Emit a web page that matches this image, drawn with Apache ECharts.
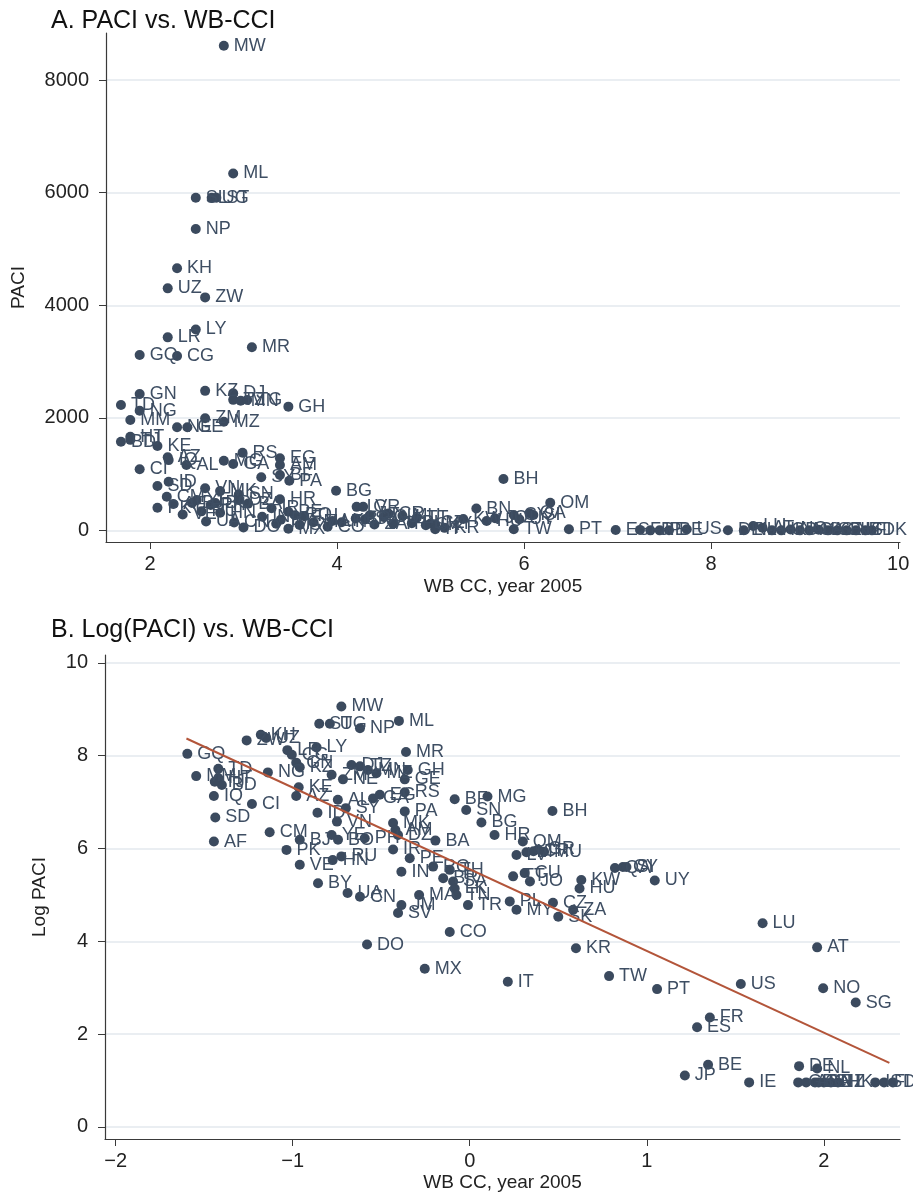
<!DOCTYPE html>
<html><head><meta charset="utf-8">
<script src="https://cdn.jsdelivr.net/npm/echarts@6/dist/echarts.min.js"></script>
<style>html,body{margin:0;padding:0;background:#fff}#c{width:913px;height:1198px}</style>
</head><body><div id="c"></div>
<script>
// ---------- Panel A: PACI vs WB CC ----------
const namesA = ['MW','ML','SL','UG','ST','NP','KH','UZ','ZW','LY','LR','MR','GQ','CG','GN','KZ','DJ','TZ','MN','TG','GH','TD','NG','MM','ZM','MZ','NE','GE','HT','BD','TJ','KE','AZ','IQ','AL','RS','MG','GA','EG','AM','CI','SY','BF','PA','BG','HR','SD','ID','VN','MK','CM','PK','AF','SN','YE','BO','PH','DZ','BA','BJ','RU','HN','VE','IR','PE','IN','RO','TH','BY','UA','CN','DO','MX','JM','SV','MA','CO','LK','TN','BR','SA','LV','GR','LT','CR','MU','ZA','TR','PL','CU','TT','CZ','MY','SK','KW','HU','KR','IT','JO','BN','BH','OM','CY','QA','SI','UY','TW','PT','ES','FR','JP','IE','BE','US','DE','NL','LU','AT','HK','GB','NO','AU','CA','SG','SE','CH','NZ','IS','FI','DK'];
const ccA = [2.79,2.89,2.49,2.66,2.71,2.49,2.29,2.19,2.59,2.49,2.19,3.09,1.89,2.29,1.89,2.59,2.89,2.89,2.97,3.04,3.48,1.69,1.89,1.79,2.59,2.79,2.29,2.40,1.79,1.69,1.79,2.08,2.19,2.20,2.39,2.99,2.79,2.89,3.39,3.39,1.89,3.19,3.39,3.49,3.99,3.39,2.08,2.20,2.59,2.75,2.18,2.08,2.25,2.95,2.50,2.70,2.65,2.95,3.05,2.45,2.55,2.75,2.35,3.30,3.48,3.20,3.55,3.65,3.40,2.60,2.90,3.00,3.48,3.35,3.60,3.75,3.90,3.95,4.05,4.20,4.30,4.21,4.28,4.35,4.55,4.70,4.40,4.60,4.80,4.50,4.85,5.00,5.05,4.95,5.35,5.60,5.15,5.05,5.69,5.49,5.78,6.28,5.89,6.06,6.10,5.95,5.89,6.48,6.98,7.24,7.35,7.45,7.55,7.74,8.18,8.35,8.45,8.55,8.65,8.75,8.85,8.95,9.05,9.15,9.25,9.35,9.45,9.55,9.65,9.72];
const paciA = [8610,6340,5910,5910,5910,5355,4656,4300,4140,3570,3430,3255,3117,3100,2425,2480,2437,2320,2305,2318,2200,2230,2128,1963,1993,1932,1833,1833,1666,1577,1610,1500,1300,1250,1163,1382,1240,1181,1282,1163,1087,945,986,884,707,554,790,867,749,700,600,405,470,640,540,490,455,540,478,490,340,315,285,395,334,245,273,255,190,160,143,55,30,119,100,148,66,170,148,212,198,420,420,270,300,260,108,119,129,238,221,125,108,93,204,170,47,23,217,390,915,494,275,305,275,200,21,21,9,11,3,3,4,22,4,4,81,48,3,3,20,3,3,15,3,3,3,3,3,3];

// ---------- Panel B: Log(PACI) vs WB CC ----------
const namesB = ['MW','ST','UG','NP','ML','ZW','KH','UZ','LY','GQ','LR','CG','MR','GN','KZ','NG','TD','MM','HT','BD','TJ','IQ','CI','SD','AF','CM','KE','AZ','DJ','TZ','MN','GH','ZM','NE','MZ','GE','ID','AL','SY','VN','GA','EG','RS','PA','BF','MG','SN','BG','HR','BH','MK','AM','DZ','BA','OM','LV','LT','CR','GR','MU','BJ','PK','VE','BY','YE','BO','PH','HN','RU','IR','PE','IN','RO','TH','BR','SA','LK','TN','MA','TR','PL','MY','TT','CU','JO','CZ','ZA','SK','KW','HU','QA','CY','SI','UY','CN','UA','JM','SV','DO','CO','MX','IT','KR','TW','PT','US','LU','AT','NO','SG','FR','ES','BE','JP','IE','DE','NL','GB','AU','CA','SE','CH','NZ','HK','IS','FI','DK'];
const ccB = [-0.725,-0.85,-0.79,-0.62,-0.40,-1.26,-1.18,-1.15,-0.865,-1.595,-1.03,-1.005,-0.36,-0.98,-0.96,-1.14,-1.42,-1.545,-1.42,-1.40,-1.44,-1.445,-1.23,-1.437,-1.445,-1.13,-0.966,-0.98,-0.668,-0.62,-0.575,-0.35,-0.78,-0.716,-0.527,-0.367,-0.86,-0.745,-0.70,-0.75,-0.546,-0.508,-0.367,-0.367,-0.085,0.10,-0.02,0.066,0.14,0.467,-0.433,-0.42,-0.405,-0.194,0.30,0.264,0.32,0.36,0.386,0.42,-0.96,-1.035,-0.96,-0.857,-0.78,-0.744,-0.593,-0.774,-0.725,-0.433,-0.339,-0.386,-0.207,-0.113,-0.15,-0.094,-0.085,-0.075,-0.286,-0.01,0.226,0.264,0.245,0.31,0.34,0.47,0.584,0.50,0.63,0.62,0.82,0.865,0.885,1.045,-0.62,-0.69,-0.386,-0.405,-0.58,-0.113,-0.254,0.215,0.60,0.787,1.058,1.531,1.654,1.962,1.996,2.18,1.356,1.284,1.346,1.215,1.578,1.86,1.962,1.855,1.90,1.95,1.97,2.00,2.04,2.08,2.29,2.34,2.39];
const logPaciB = [9.06,8.69,8.69,8.59,8.75,8.33,8.45,8.38,8.18,8.04,8.12,8.02,8.08,7.85,7.75,7.64,7.72,7.56,7.52,7.37,7.44,7.13,6.96,6.67,6.15,6.35,7.32,7.13,7.80,7.77,7.69,7.69,7.59,7.49,7.62,7.49,6.77,7.05,6.87,6.58,7.08,7.16,7.21,6.80,7.06,7.12,6.83,6.56,6.29,6.81,6.55,6.40,6.29,6.17,6.15,5.86,5.92,5.94,5.98,5.93,6.19,5.97,5.65,5.25,6.29,6.19,6.22,5.75,5.83,5.98,5.79,5.50,5.61,5.54,5.36,5.29,5.14,5.00,5.00,4.78,4.86,4.68,5.40,5.47,5.29,4.83,4.68,4.53,5.32,5.14,5.58,5.60,5.60,5.31,4.96,5.04,4.78,4.61,3.93,4.20,3.41,3.13,3.85,3.25,2.97,3.08,4.39,3.87,2.99,2.68,2.36,2.15,1.34,1.11,0.96,1.31,1.26,0.96,0.96,0.96,0.96,0.96,0.96,0.96,0.96,0.96,0.96];

// fitted line end points
const fitX = [-1.6, 2.37];
const fitY = [8.37, 1.38];

// tick labels
const ticksAX = [2,4,6,8,10];
const ticksAY = [0,2000,4000,6000,8000];
const ticksBX = [-2,-1,0,1,2];
const ticksBY = [0,2,4,6,8,10];

const FONT = '"Liberation Sans", Arial, Helvetica, sans-serif';
const DOT = '#3b4a5e';
const LAB = '#3e4e63';
const AXC = '#3a3a3a';
const GRIDC = '#e3e9ee';

function xAxis(gi, min, max, ticks, gap) {
  return {
    type: 'value', gridIndex: gi, min: min, max: max,
    name: 'WB CC, year 2005', nameLocation: 'middle', nameGap: gap,
    nameTextStyle: {fontFamily: FONT, fontSize: 19, color: '#222'},
    axisLine: {show: true, onZero: false, lineStyle: {color: AXC, width: 1.2}},
    axisTick: {show: true, length: 7, customValues: ticks, lineStyle: {color: AXC}},
    axisLabel: {customValues: ticks, margin: 12, fontFamily: FONT, fontSize: 20, color: '#222',
      formatter: v => (v < 0 ? '\u2212' + Math.abs(v) : String(v))},
    splitLine: {show: false}
  };
}
function yAxis(gi, min, max, ticks, name, gap) {
  return {
    type: 'value', gridIndex: gi, min: min, max: max,
    name: name, nameLocation: 'middle', nameGap: gap, nameRotate: 90,
    nameTextStyle: {fontFamily: FONT, fontSize: 19, color: '#222'},
    axisLine: {show: true, onZero: false, lineStyle: {color: AXC, width: 1.2}},
    axisTick: {show: true, length: 7, customValues: ticks, lineStyle: {color: AXC}},
    axisLabel: {customValues: ticks, margin: 17, fontFamily: FONT, fontSize: 20, color: '#222',
      formatter: v => String(v)},
    splitLine: {show: true, lineStyle: {color: GRIDC, width: 1.5}}
  };
}
const labelCfg = {show: true, position: 'right', distance: 5, fontFamily: FONT, fontSize: 18, color: LAB,
  formatter: p => p.value[2]};

const dataA = namesA.map((n, i) => [ccA[i], paciA[i], n]);
const dataB = namesB.map((n, i) => [ccB[i], logPaciB[i], n]);
const fitData = fitX.map((x, i) => [x, fitY[i]]);

const chart = echarts.init(document.getElementById('c'), null, {renderer: 'canvas'});
chart.setOption({
  animation: false,
  backgroundColor: '#fff',
  title: [
    {text: 'A. PACI vs. WB-CCI', left: 46, top: 4, textStyle: {fontFamily: FONT, fontSize: 25, fontWeight: 'normal', color: '#111'}},
    {text: 'B. Log(PACI) vs. WB-CCI', left: 46, top: 613, textStyle: {fontFamily: FONT, fontSize: 25, fontWeight: 'normal', color: '#111'}}
  ],
  grid: [
    {left: 106, right: 13, top: 33, bottom: 656},
    {left: 105, right: 13, top: 655, bottom: 59}
  ],
  xAxis: [xAxis(0, 1.53, 10.02, ticksAX, 35), xAxis(1, -2.06, 2.43, ticksBX, 34)],
  yAxis: [yAxis(0, -204, 8835, ticksAY, 'PACI', 78), yAxis(1, -0.26, 10.17, ticksBY, 'Log PACI', 56)],
  series: [
    {type: 'scatter', xAxisIndex: 0, yAxisIndex: 0, data: dataA, symbolSize: 10,
      itemStyle: {color: DOT, opacity: 1}, label: labelCfg, z: 3},
    {type: 'scatter', xAxisIndex: 1, yAxisIndex: 1, data: dataB, symbolSize: 10,
      itemStyle: {color: DOT, opacity: 1}, label: labelCfg, z: 3},
    {type: 'line', xAxisIndex: 1, yAxisIndex: 1, data: fitData, symbol: 'none',
      lineStyle: {color: '#b3553a', width: 2}, z: 4}
  ]
});
</script></body></html>
